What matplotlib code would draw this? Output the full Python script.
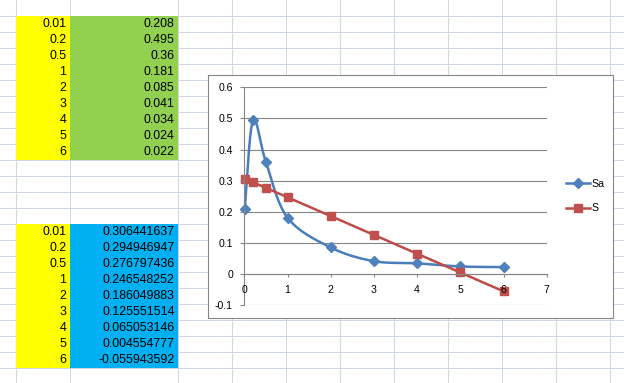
import numpy as np
import matplotlib
matplotlib.use("Agg")
import matplotlib.pyplot as plt
from matplotlib.lines import Line2D
from matplotlib.patches import Rectangle

# ---- data ----
x_vals = [0.01, 0.2, 0.5, 1, 2, 3, 4, 5, 6]
x_labels = ["0.01", "0.2", "0.5", "1", "2", "3", "4", "5", "6"]
sa_vals = [0.208, 0.495, 0.36, 0.181, 0.085, 0.041, 0.034, 0.024, 0.022]
sa_labels = ["0.208", "0.495", "0.36", "0.181", "0.085", "0.041", "0.034", "0.024", "0.022"]
s_vals = [0.306441637, 0.294946947, 0.276797436, 0.246548252, 0.186049883,
          0.125551514, 0.065053146, 0.004554777, -0.055943592]
s_labels = ["0.306441637", "0.294946947", "0.276797436", "0.246548252", "0.186049883",
            "0.125551514", "0.065053146", "0.004554777", "-0.055943592"]
series_names = ["Sa", "S"]
y_ticks = [-0.1, 0, 0.1, 0.2, 0.3, 0.4, 0.5, 0.6]
x_ticks = [0, 1, 2, 3, 4, 5, 6, 7]

W, H = 624, 383
FONT = "Liberation Sans"
GRID_C = "#D0D7E5"
YELLOW = "#FFFF00"
GREEN = "#92D050"
BLUE_CELL = "#00B0F0"

fig = plt.figure(figsize=(W / 100, H / 100), dpi=100)
fig.patch.set_facecolor("white")

# ---- spreadsheet background ----
bg = fig.add_axes([0, 0, 1, 1])
bg.set_xlim(0, W)
bg.set_ylim(H, 0)
bg.axis("off")

col_edges = [15.5, 69.5, 177.5] + [231.5 + 54 * i for i in range(8)]
row_h = 16
row_edges = [15.5 + row_h * k for k in range(24)]
for cx in col_edges:
    bg.plot([cx, cx], [0, H], color=GRID_C, lw=0.75, zorder=1)
for ry in row_edges:
    bg.plot([0, W], [ry, ry], color=GRID_C, lw=0.75, zorder=1)


def cell_block(first_row, left_labels, right_labels, right_color):
    n = len(left_labels)
    top = row_edges[first_row]
    bg.add_patch(Rectangle((col_edges[0], top), col_edges[1] - col_edges[0], n * row_h,
                           facecolor=YELLOW, edgecolor="none", zorder=2))
    bg.add_patch(Rectangle((col_edges[1], top), col_edges[2] - col_edges[1], n * row_h,
                           facecolor=right_color, edgecolor="none", zorder=2))
    for i, (a, b) in enumerate(zip(left_labels, right_labels)):
        yc = top + i * row_h + row_h / 2 + 0.8
        bg.text(col_edges[1] - 3, yc, a, ha="right", va="center", fontsize=8.9,
                family=FONT, zorder=3)
        bg.text(col_edges[2] - 3, yc, b, ha="right", va="center", fontsize=8.9,
                family=FONT, zorder=3)


cell_block(0, x_labels, sa_labels, GREEN)
cell_block(13, x_labels, s_labels, BLUE_CELL)

# chart frame
bg.add_patch(Rectangle((208, 75), 405, 243, facecolor="white", edgecolor="#868686",
                       lw=0.8, zorder=4))

# ---- chart ----
ax = fig.add_axes([244.3 / W, (H - 305) / H, (546.7 - 244.3) / W, (305 - 87.4) / H])
ax.set_facecolor("none")
ax.set_xlim(0, 7)
ax.set_ylim(-0.1, 0.6)
for sp in ["top", "right"]:
    ax.spines[sp].set_visible(False)
ax.spines["bottom"].set_position(("data", 0))
ax.spines["left"].set_color("#868686")
ax.spines["bottom"].set_color("#868686")
ax.spines["left"].set_linewidth(0.8)
ax.spines["bottom"].set_linewidth(0.8)
for yt in y_ticks:
    ax.axhline(yt, color="#868686", lw=0.8, zorder=0.5)
ax.set_xticks(x_ticks)
ax.set_yticks(y_ticks)
ax.set_xticklabels([str(t) for t in x_ticks])
ax.set_yticklabels([("0" if t == 0 else f"{t:.1f}") for t in y_ticks])
ax.tick_params(axis="x", direction="out", length=2.4, width=0.8, color="#868686",
               pad=5.3, labelsize=7.6)
ax.tick_params(axis="y", direction="out", length=2.8, width=0.8, color="#868686",
               pad=5.4, labelsize=7.6)
for lab in ax.get_xticklabels() + ax.get_yticklabels():
    lab.set_family(FONT)
ax.set_axisbelow(False)


def excel_smooth(xs, ys, n=40):
    xs = np.asarray(xs, float)
    ys = np.asarray(ys, float)
    px, py = [], []
    m = len(xs)
    for i in range(m - 1):
        i0 = max(i - 1, 0)
        i3 = min(i + 2, m - 1)
        c1x = xs[i] + (xs[i + 1] - xs[i0]) / 6
        c1y = ys[i] + (ys[i + 1] - ys[i0]) / 6
        c2x = xs[i + 1] - (xs[i3] - xs[i]) / 6
        c2y = ys[i + 1] - (ys[i3] - ys[i]) / 6
        t = np.linspace(0, 1, n)
        bx = (1 - t) ** 3 * xs[i] + 3 * (1 - t) ** 2 * t * c1x + 3 * (1 - t) * t ** 2 * c2x + t ** 3 * xs[i + 1]
        by = (1 - t) ** 3 * ys[i] + 3 * (1 - t) ** 2 * t * c1y + 3 * (1 - t) * t ** 2 * c2y + t ** 3 * ys[i + 1]
        px.extend(bx)
        py.extend(by)
    return np.array(px), np.array(py)


sx, sy = excel_smooth(x_vals, sa_vals)
SA_LINE, SA_MK = "#4A7EBB", "#4F81BD"
S_LINE, S_MK = "#BE4B48", "#C0504D"
ax.plot(sx, sy, color=SA_LINE, lw=1.8, zorder=2, clip_on=False, solid_capstyle="round")
ax.plot(x_vals, sa_vals, ls="none", marker="D", ms=5.2, color=SA_MK, zorder=2.1, clip_on=False)
ax.plot(x_vals, s_vals, color=S_LINE, lw=1.8, marker="s", ms=6.2, mfc=S_MK, mec=S_MK,
        zorder=2.2, clip_on=False)

handles = [Line2D([], [], color=SA_LINE, lw=1.8, marker="D", ms=5.2, mfc=SA_MK, mec=SA_MK),
           Line2D([], [], color=S_LINE, lw=1.8, marker="s", ms=6.2, mfc=S_MK, mec=S_MK)]
leg = fig.legend(handles, series_names, loc="center left",
                 bbox_to_anchor=(566 / W, (H - 196.2) / H), frameon=False,
                 prop={"family": FONT, "size": 7.6}, handlelength=2.3, handletextpad=0.1,
                 labelspacing=1.35, borderpad=0, borderaxespad=0)

fig.savefig("out.png", dpi=100)
